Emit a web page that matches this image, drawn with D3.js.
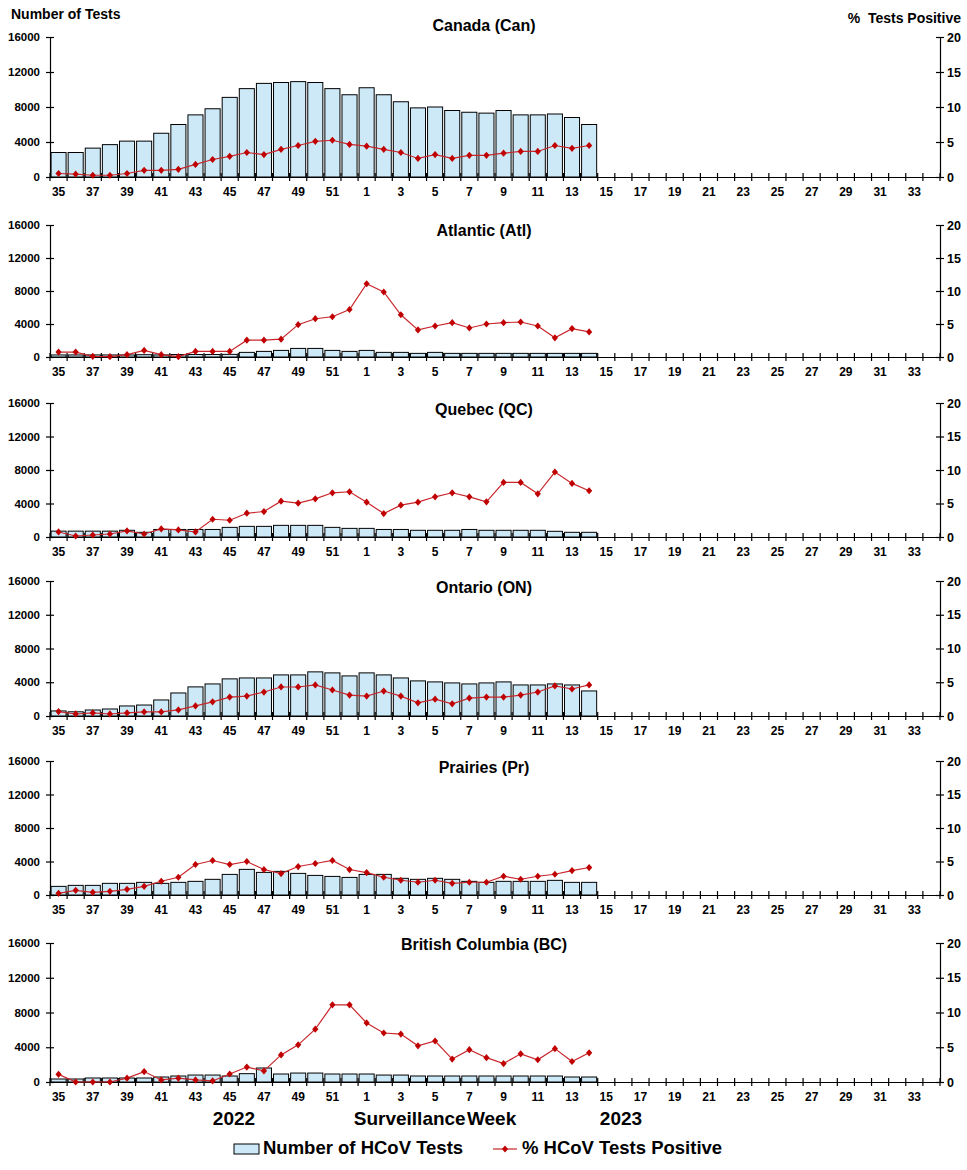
<!DOCTYPE html>
<html><head><meta charset="utf-8">
<script src="https://cdn.jsdelivr.net/npm/d3@7"></script>
<style>
body{margin:0;background:#fff}
svg{display:block}
text{font-family:"Liberation Sans",Arial,Helvetica,sans-serif;font-weight:bold;fill:#000}
</style>
</head><body>
<svg id="chart" width="967" height="1170"></svg>
<script>
// ---- data ----
const weeks = [35,36,37,38,39,40,41,42,43,44,45,46,47,48,49,50,51,52,
  1,2,3,4,5,6,7,8,9,10,11,12,13,14,15,16,17,18,19,20,21,22,23,24,25,26,27,28,29,30,31,32,33,34];
const regionNames = ["Canada (Can)","Atlantic (Atl)","Quebec (QC)","Ontario (ON)","Prairies (Pr)","British Columbia (BC)"];
const leftTicks = [0,4000,8000,12000,16000];
const rightTicks = [0,5,10,15,20];

const testsCan = [2800,2800,3300,3700,4100,4100,5000,6000,7100,7800,9100,10100,10700,10800,10900,10800,10100,9400,
  10200,9400,8600,7900,8000,7600,7400,7300,7600,7100,7100,7200,6800,6000];
const pctCan = [0.5,0.4,0.25,0.25,0.5,0.95,0.95,1.1,1.8,2.5,2.95,3.5,3.2,3.95,4.5,5.1,5.25,4.65,
  4.4,3.95,3.5,2.65,3.2,2.65,3.1,3.1,3.4,3.65,3.65,4.5,4.1,4.5];

const testsAtl = [250,250,250,250,250,280,250,300,300,300,320,560,680,800,1040,1040,800,680,
  800,560,560,440,560,440,440,440,440,440,440,440,440,440];
const pctAtl = [0.75,0.75,0.1,0.05,0.35,1.0,0.35,0.05,0.85,0.85,0.85,2.55,2.55,2.7,4.9,5.8,6.1,7.2,
  11.1,9.85,6.4,4.1,4.7,5.2,4.4,5.0,5.2,5.3,4.7,2.9,4.3,3.8];

const testsQC = [700,700,700,700,800,560,900,900,900,900,1150,1270,1270,1390,1390,1390,1150,1030,
  1030,900,900,800,800,800,900,800,800,800,800,680,560,560];
const pctQC = [0.75,0.15,0.3,0.45,0.9,0.45,1.2,1.05,0.75,2.65,2.5,3.55,3.8,5.35,5.05,5.7,6.6,6.75,
  5.2,3.5,4.75,5.2,6.0,6.6,6.0,5.25,8.15,8.15,6.45,9.7,8.0,6.9];

const testsON = [600,500,710,830,1190,1300,1900,2730,3450,3800,4400,4510,4510,4870,4870,5230,5110,4750,
  5110,4870,4510,4160,4040,3920,3800,3920,4040,3680,3680,3800,3680,2970];
const pctON = [0.65,0.3,0.45,0.3,0.45,0.6,0.6,0.9,1.5,2.1,2.8,2.95,3.55,4.3,4.3,4.6,3.85,3.1,
  2.95,3.7,2.95,1.95,2.5,1.8,2.65,2.8,2.8,3.1,3.55,4.45,4.0,4.6];

const testsPr = [1030,1150,1150,1390,1390,1510,1390,1510,1630,1870,2460,3060,2700,2820,2580,2340,2220,2100,
  2460,2460,1990,1870,1990,1870,1630,1510,1630,1630,1630,1750,1510,1510];
const pctPr = [0.25,0.7,0.4,0.55,0.85,1.3,2.05,2.65,4.55,5.15,4.55,5.0,3.8,3.2,4.25,4.7,5.15,3.8,
  3.35,2.65,2.2,1.9,2.2,1.75,1.9,1.9,2.8,2.35,2.8,3.1,3.65,4.1];

const testsBC = [345,345,460,460,460,460,575,690,800,800,690,960,1610,920,1030,1030,920,920,
  920,800,800,690,690,690,690,690,690,690,690,690,575,575];
const pctBC = [1.1,0,0,0,0.55,1.5,0.3,0.55,0.3,0.15,1.15,2.15,1.6,3.9,5.35,7.6,11.1,11.1,
  8.5,7.05,6.9,5.2,5.9,3.3,4.65,3.5,2.65,4.05,3.2,4.8,2.95,4.2];

const testsAll = [testsCan,testsAtl,testsQC,testsON,testsPr,testsBC];
const pctAll = [pctCan,pctAtl,pctQC,pctON,pctPr,pctBC];

// ---- layout ----
const panelTop = [37,225,403,581,761,943];
const panelBottom = [177,357,537,716,895,1082];
const titleOffset = [-6,11,12,12,12,7];
const X0 = 50, X1 = 940;
const barFill = "#cde9f8", lineColor = "#c8262b", markColor = "#c00000";

const svg = d3.select("#chart");
const x = d3.scaleBand().domain(weeks.map(String)).range([X0, X1]).paddingInner(0.12).paddingOuter(0.06);
const step = (X1 - X0) / weeks.length;
const diamond = "M0,-3.6L3.1,0L0,3.6L-3.1,0Z";

regionNames.forEach((name, p) => {
  const top = panelTop[p], bot = panelBottom[p];
  const yL = d3.scaleLinear().domain([0,16000]).range([bot, top]);
  const yR = d3.scaleLinear().domain([0,20]).range([bot, top]);
  const g = svg.append("g");

  // bars
  const tests = testsAll[p];
  g.selectAll("rect.bar").data(tests).join("rect")
    .attr("x", (d,i) => x(String(weeks[i])))
    .attr("y", d => yL(d))
    .attr("width", x.bandwidth())
    .attr("height", d => bot - yL(d))
    .attr("fill", barFill).attr("stroke", "#000").attr("stroke-width", 1);

  // left axis
  const la = g.append("g").attr("transform", `translate(${X0},0)`)
    .call(d3.axisLeft(yL).tickValues(leftTicks).tickSize(4).tickSizeOuter(0).tickFormat(d3.format("d")));
  la.select(".domain").attr("stroke","#000").attr("stroke-width",1.2);
  la.selectAll(".tick line").attr("x1",-4).attr("x2",4).attr("stroke","#000").attr("stroke-width",1.2);
  la.selectAll(".tick text").attr("x",-10).style("font-size","11.5px").style("font-family","'Liberation Sans',Arial,sans-serif").style("font-weight","bold");

  // right axis
  const ra = g.append("g").attr("transform", `translate(${X1},0)`)
    .call(d3.axisRight(yR).tickValues(rightTicks).tickSize(4).tickSizeOuter(0));
  ra.select(".domain").attr("stroke","#000").attr("stroke-width",1.2);
  ra.selectAll(".tick line").attr("x1",-4).attr("x2",4).attr("stroke","#000").attr("stroke-width",1.2);
  ra.selectAll(".tick text").attr("x",7).style("font-size","12.5px").style("font-family","'Liberation Sans',Arial,sans-serif").style("font-weight","bold");

  // bottom axis
  const xa = g.append("g").attr("transform", `translate(0,${bot})`)
    .call(d3.axisBottom(x).tickSize(0).tickFormat((d,i) => i % 2 === 0 ? d : ""));
  xa.select(".domain").attr("stroke","#000").attr("stroke-width",1.2);
  xa.selectAll(".tick text").attr("y",10).style("font-size","12px").style("font-family","'Liberation Sans',Arial,sans-serif").style("font-weight","bold");
  // boundary tick marks
  g.selectAll("line.xt").data(d3.range(weeks.length + 1)).join("line")
    .attr("x1", i => X0 + i*step).attr("x2", i => X0 + i*step)
    .attr("y1", bot - 4).attr("y2", bot + 4)
    .attr("stroke","#000").attr("stroke-width",1.2);

  // line
  const pct = pctAll[p];
  const cx = i => x(String(weeks[i])) + x.bandwidth()/2;
  g.append("path").datum(pct)
    .attr("fill","none").attr("stroke",lineColor).attr("stroke-width",1.2)
    .attr("d", d3.line().x((d,i) => cx(i)).y(d => yR(d)));
  g.selectAll("path.mk").data(pct).join("path")
    .attr("d", diamond)
    .attr("transform", (d,i) => `translate(${cx(i)},${yR(d)})`)
    .attr("fill", markColor);

  // title
  g.append("text").attr("x", 484).attr("y", top + titleOffset[p])
    .attr("text-anchor","middle").style("font-size","16px").text(name);
});

// axis titles
svg.append("text").attr("x", 11).attr("y", 19).style("font-size","14px").text("Number of Tests");
svg.append("text").attr("x", 961).attr("y", 23).attr("text-anchor","end")
  .style("font-size","14px").style("white-space","pre").text("%  Tests Positive");

// x labels
svg.append("text").attr("x", 234).attr("y", 1125).attr("text-anchor","middle").style("font-size","19px").text("2022");
svg.append("text").attr("x", 435).attr("y", 1125).attr("text-anchor","middle").style("font-size","19px").style("word-spacing","-4px").text("Surveillance Week");
svg.append("text").attr("x", 621).attr("y", 1125).attr("text-anchor","middle").style("font-size","19px").text("2023");

// legend
const lg = svg.append("g");
lg.append("rect").attr("x", 234).attr("y", 1144).attr("width", 25).attr("height", 10)
  .attr("fill", barFill).attr("stroke","#000").attr("stroke-width",1);
lg.append("text").attr("x", 263).attr("y", 1154).style("font-size","18.5px").text("Number of HCoV Tests");
lg.append("line").attr("x1", 493).attr("x2", 517).attr("y1", 1149).attr("y2", 1149)
  .attr("stroke", lineColor).attr("stroke-width", 1.2);
lg.append("path").attr("d", diamond).attr("transform","translate(505,1149)").attr("fill", markColor);
lg.append("text").attr("x", 522).attr("y", 1154).style("font-size","18.5px").text("% HCoV Tests Positive");
</script>
</body></html>
